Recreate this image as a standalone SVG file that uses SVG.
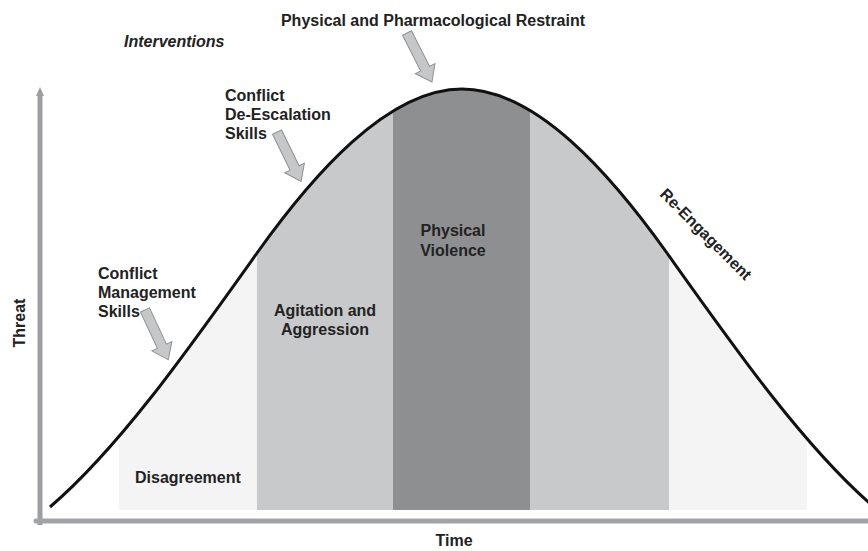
<svg xmlns="http://www.w3.org/2000/svg" width="868" height="551" viewBox="0 0 868 551">
<style>
.t{font-family:"Liberation Sans",Arial,sans-serif;font-weight:bold;font-size:16px;fill:#222}
.arr{fill:#c6c7c9;stroke:#8f9092;stroke-width:1}
</style>
<defs>
<path id="curve" d="M50,507 C119,448 188,350 257,253 C312,176 387,89 462,89 C537,89 612,176 667,253 C736,350 805,448 874,507"/>
<clipPath id="under"><path d="M50,507 C119,448 188,350 257,253 C312,176 387,89 462,89 C537,89 612,176 667,253 C736,350 805,448 874,507 L874,560 L0,560 Z"/></clipPath>
<polygon id="barrow" points="0,-5 40,-5 40,-11 55,0 40,11 40,5 0,5"/>
</defs>
<rect width="868" height="551" fill="#fff"/>
<g id="bands" clip-path="url(#under)">
<rect id="band-disagreement" x="119" y="80" width="138" height="430" fill="#f4f4f4"/>
<rect id="band-agitation" x="257" y="80" width="136" height="430" fill="#c8c9cb"/>
<rect id="band-violence" x="393" y="80" width="137" height="430" fill="#8e8f91"/>
<rect id="band-agitation2" x="530" y="80" width="139" height="430" fill="#c8c9cb"/>
<rect id="band-reengage" x="669" y="80" width="138" height="430" fill="#f4f4f4"/>
</g>
<g id="axes">
<line x1="40" y1="95" x2="40" y2="525" stroke="#9d9ea1" stroke-width="5"/>
<polygon points="36,96 40,87 44,96" fill="#9d9ea1"/>
<line x1="36" y1="521" x2="868" y2="521" stroke="#a2a3a6" stroke-width="5" stroke-linecap="round"/>
</g>
<use id="bell-curve" href="#curve" fill="none" stroke="#111" stroke-width="3"/>
<g id="connectors">
<use href="#barrow" class="arr" transform="translate(407,33) rotate(63)"/>
<use href="#barrow" class="arr" transform="translate(277,132) rotate(64)"/>
<use href="#barrow" class="arr" transform="translate(145,310) rotate(65)"/>
</g>
<g id="title"><text class="t" x="433" y="26" text-anchor="middle">Physical and Pharmacological Restraint</text></g>
<g id="interventions"><text class="t" x="124" y="47" font-style="italic">Interventions</text></g>
<g id="deescalation"><text class="t" x="225" y="101">Conflict</text><text class="t" x="225" y="120">De-Escalation</text><text class="t" x="225" y="139">Skills</text></g>
<g id="management"><text class="t" x="98" y="279">Conflict</text><text class="t" x="98" y="298">Management</text><text class="t" x="98" y="317">Skills</text></g>
<g id="agitation"><text class="t" x="325" y="316" text-anchor="middle">Agitation and</text><text class="t" x="325" y="335" text-anchor="middle">Aggression</text></g>
<g id="violence"><text class="t" x="453" y="236" text-anchor="middle">Physical</text><text class="t" x="453" y="256" text-anchor="middle">Violence</text></g>
<g id="disagreement"><text class="t" x="135" y="483">Disagreement</text></g>
<g id="reengagement"><text class="t" font-weight="normal" font-size="16.5" transform="translate(659,195) rotate(45)">Re-Engagement</text></g>
<g id="threat"><text class="t" font-size="18" text-anchor="middle" transform="translate(25,323) rotate(-90)">Threat</text></g>
<g id="time"><text class="t" font-size="17" x="454" y="546" text-anchor="middle">Time</text></g>
</svg>
